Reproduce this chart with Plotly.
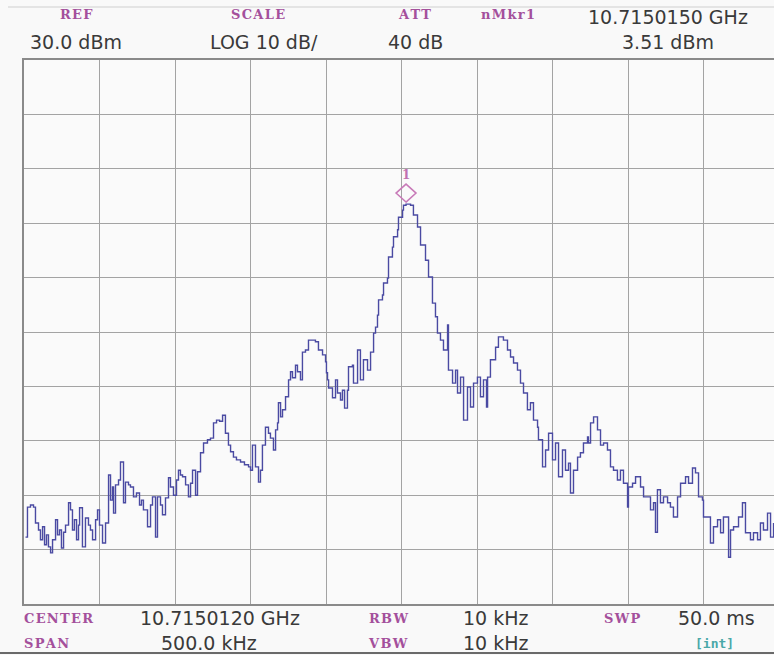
import plotly.graph_objects as go

# ---- data: frequency offset from center (kHz) and level (dBm) ----
freq_khz = [
    -249.0, -247.7, -245.7, -243.7, -242.4, -240.4, -239.1, -237.7, -236.4, -235.1,
    -233.8, -232.4, -231.1, -229.1, -227.8, -226.5, -225.2, -223.8, -222.5, -220.5,
    -219.2, -217.9, -216.6, -215.2, -213.9, -213.2, -211.3, -209.3, -207.3, -206.0,
    -204.6, -202.6, -201.3, -200.0, -198.0, -196.0, -194.0, -192.7, -191.4, -190.7,
    -189.4, -187.4, -186.1, -184.1, -182.8, -180.8, -179.5, -177.5, -175.5, -173.5,
    -172.2, -170.9, -168.2, -166.2, -164.9, -162.9, -161.6, -159.6, -158.3, -156.3,
    -154.3, -153.0, -151.0, -149.0, -147.7, -146.4, -145.0, -143.0, -141.1, -139.7,
    -138.4, -136.4, -135.1, -133.1, -131.1, -128.5, -126.5, -124.5, -122.5, -120.5,
    -118.5, -116.6, -114.6, -113.2, -111.3, -109.3, -106.6, -104.0, -101.3, -100.0,
    -98.7, -96.7, -94.7, -93.4, -92.1, -90.1, -88.1, -86.8, -84.8, -83.4,
    -82.1, -81.5, -80.1, -78.8, -76.8, -74.8, -73.5, -72.2, -70.2, -68.9,
    -66.9, -65.6, -63.6, -61.6, -58.9, -57.0, -55.0, -52.3, -50.3, -49.7,
    -49.0, -48.3, -45.7, -43.7, -42.4, -40.4, -39.1, -37.7, -35.8, -35.1,
    -32.5, -31.8, -29.1, -27.2, -25.2, -22.5, -20.5, -18.5, -17.2, -15.9,
    -15.2, -12.6, -11.9, -9.3, -8.6, -6.0, -5.3, -2.6, -2.0, 0.7,
    1.3, 3.0, 6.0, 7.9, 10.6, 12.6, 15.9, 17.9, 20.5, 22.5,
    23.8, 25.8, 27.8, 30.5, 31.1, 33.8, 35.8, 37.1, 39.1, 41.1,
    43.7, 45.7, 47.7, 50.3, 52.3, 54.3, 56.3, 57.0, 58.9, 62.3,
    64.2, 67.5, 70.2, 72.2, 74.2, 76.8, 78.8, 80.8, 83.4, 85.4,
    87.4, 90.1, 90.7, 93.4, 95.4, 97.4, 100.0, 102.0, 104.0, 106.6,
    108.6, 110.6, 111.9, 113.9, 116.6, 118.5, 120.5, 123.2, 123.8, 125.2,
    127.2, 129.8, 131.8, 133.8, 136.4, 138.4, 140.4, 143.0, 145.0, 147.0,
    149.7, 150.3, 153.0, 155.0, 157.0, 158.3, 160.3, 162.9, 164.9, 166.9,
    168.2, 169.5, 171.5, 173.5, 176.2, 178.1, 180.1, 182.8, 184.8, 188.1,
    190.1, 192.7, 194.7, 196.7, 199.3, 200.0, 202.7, 204.6, 206.6, 209.3,
    211.3, 213.2, 216.6, 217.9, 219.9, 223.2, 225.8, 227.8, 231.1, 233.1,
    235.8, 237.7, 239.7, 242.4, 244.4, 246.4,
]
level_dbm = [
    -57.7, -52.2, -51.8, -52.2, -55.1, -56.4, -58.2, -55.8, -59.1, -57.3,
    -59.5, -60.6, -58.2, -54.5, -57.3, -56.4, -59.7, -56.8, -55.5, -51.4,
    -52.7, -56.4, -54.5, -58.2, -55.5, -52.3, -59.5, -54.2, -55.5, -56.4,
    -58.2, -54.5, -52.7, -55.5, -58.8, -55.1, -46.3, -50.9, -48.5, -53.3,
    -48.1, -47.2, -43.9, -51.4, -47.6, -48.1, -48.5, -50.3, -49.6, -51.8,
    -50.9, -52.7, -55.8, -51.8, -50.3, -57.7, -50.3, -51.8, -53.6, -50.5,
    -46.8, -48.5, -50.0, -47.2, -45.4, -46.3, -46.6, -48.1, -50.3, -47.8,
    -45.4, -50.0, -45.7, -42.2, -40.4, -39.8, -39.5, -36.7, -36.2, -36.4,
    -35.3, -38.6, -40.8, -42.0, -43.0, -43.5, -43.9, -44.4, -44.8, -45.4,
    -40.8, -44.8, -47.6, -45.4, -40.8, -37.5, -38.6, -39.5, -41.7, -38.0,
    -36.7, -33.0, -35.6, -34.3, -31.9, -28.8, -27.3, -28.4, -26.1, -27.3,
    -28.8, -23.7, -23.3, -21.5, -21.5, -21.8, -23.3, -24.2, -25.5, -27.5,
    -28.8, -30.3, -32.1, -28.8, -31.2, -32.5, -30.7, -34.0, -30.7, -26.4,
    -26.1, -29.4, -23.3, -28.8, -25.1, -27.0, -23.7, -20.2, -19.1, -16.9,
    -14.1, -13.2, -11.0, -10.1, -6.2, -4.4, -2.5, -1.2, 1.1, 2.4,
    3.3, 3.51, 3.3, 1.5, -0.7, -4.0, -6.8, -9.9, -14.7, -17.2,
    -20.2, -21.5, -23.3, -18.7, -27.0, -29.4, -27.0, -31.2, -28.3, -36.2,
    -30.1, -33.8, -29.4, -28.3, -31.9, -28.8, -33.8, -28.3, -25.1, -22.8,
    -20.9, -21.5, -23.3, -24.6, -25.7, -27.0, -29.4, -31.2, -34.3, -33.0,
    -36.2, -37.5, -39.8, -44.8, -41.7, -38.6, -43.5, -40.4, -46.6, -41.7,
    -45.4, -44.1, -49.6, -45.4, -43.0, -42.2, -40.4, -39.3, -40.4, -36.7,
    -35.6, -38.0, -40.8, -40.4, -41.7, -44.8, -45.4, -47.2, -45.4, -47.8,
    -52.2, -48.5, -47.8, -46.6, -46.6, -48.5, -50.3, -50.3, -52.7, -51.4,
    -56.8, -49.0, -51.4, -50.3, -51.4, -52.2, -54.0, -50.3, -47.8, -46.6,
    -47.8, -45.0, -45.9, -50.3, -50.9, -54.0, -54.0, -58.8, -55.8, -54.5,
    -56.9, -54.0, -61.4, -56.4, -55.8, -54.0, -51.4, -56.9, -58.2, -56.9,
    -58.2, -55.1, -56.4, -53.3, -57.7, -55.1,
]

# instrument settings
ref_level = 30.0
db_per_div = 10
span_khz = 500.0
marker_khz = 3.0
marker_dbm = 3.51

header_labels = ["REF", "SCALE", "ATT", "nMkr1"]
header_values = ["30.0 dBm", "LOG 10 dB/", "40 dB", "3.51 dBm"]
marker_freq_text = "10.7150150 GHz"
footer_labels = ["CENTER", "SPAN", "RBW", "VBW", "SWP"]
footer_values = ["10.7150120 GHz", "500.0 kHz", "10 kHz", "10 kHz", "50.0 ms"]

W, H = 774, 655
L, T, B = 24, 60, 51
PW = W - L
PH = H - T - B
div_px = 75.5
x_lo = -span_khz / 2
x_hi = x_lo + PW / div_px * (span_khz / 10)

BG = "#f9f9f9"


def px(x):
    return (x - L) / PW


def py(y):
    return (T + PH - y) / PH


LABEL_C = "#a4509c"
VAL_C = "#3a3a3a"
lab_font = dict(family="DejaVu Serif", size=13, color=LABEL_C, weight="bold")
val_font = dict(family="DejaVu Sans", size=19, color=VAL_C)

fig = go.Figure()
fig.add_trace(go.Scatter(
    x=freq_khz, y=level_dbm, mode="lines",
    line=dict(color="#4a4aa2", width=1.4, shape="hv"),
    hoverinfo="skip", showlegend=False,
))

ann = []


def txt(text, x, y, font):
    ann.append(dict(text=text, x=px(x), y=py(y), xref="paper", yref="paper",
                    xanchor="center", yanchor="middle", showarrow=False, font=font))


def spaced(s):
    return "\u200a".join(s)


# header
txt(spaced(header_labels[0]), 76, 14, lab_font)
txt(spaced(header_labels[1]), 258, 14, lab_font)
txt(spaced(header_labels[2]), 414, 14, lab_font)
txt(spaced(header_labels[3]), 508, 14, lab_font)
txt(marker_freq_text, 668, 17, val_font)
txt(header_values[0], 76, 42, val_font)
txt(header_values[1], 264, 42, val_font)
txt(header_values[2], 415, 42, val_font)
txt(header_values[3], 668, 42, val_font)
# footer
txt(spaced(footer_labels[0]), 58, 618, lab_font)
txt(footer_values[0], 220, 618, val_font)
txt(spaced(footer_labels[2]), 388, 618, lab_font)
txt(footer_values[2], 496, 618, val_font)
txt(spaced(footer_labels[4]), 622, 618, lab_font)
txt(footer_values[4], 716, 618, val_font)
txt(spaced(footer_labels[1]), 46, 643, lab_font)
txt(footer_values[1], 209, 643, val_font)
txt(spaced(footer_labels[3]), 388, 643, lab_font)
txt(footer_values[3], 496, 643, val_font)
txt("[int]", 714, 643, dict(family="DejaVu Sans Mono", size=13, color="#4aa8a8", weight="bold"))

# marker number
ann.append(dict(text="1", x=marker_khz, y=marker_dbm, xref="x", yref="y",
                yshift=29, showarrow=False,
                font=dict(family="DejaVu Serif", size=12, color="#c070b0", weight="bold")))

shapes = [
    # marker diamond above the peak
    dict(type="path", xref="x", yref="y", xsizemode="pixel", ysizemode="pixel",
         xanchor=marker_khz, yanchor=marker_dbm,
         path="M 0 2 L 10 11 L 0 20 L -10 11 Z",
         line=dict(color="#c87ab8", width=1.5)),
    # thin rule at top of header
    dict(type="line", xref="paper", yref="paper", x0=px(8), x1=px(774), y0=py(7), y1=py(7),
         line=dict(color="#cfcfcf", width=1)),
    # bottom rule
    dict(type="line", xref="paper", yref="paper", x0=px(0), x1=px(774), y0=py(653), y1=py(653),
         line=dict(color="#6a6a6a", width=2)),
]

fig.update_layout(
    width=W, height=H,
    margin=dict(l=L, r=0, t=T, b=B, pad=0),
    paper_bgcolor=BG, plot_bgcolor="#fafafa",
    annotations=ann, shapes=shapes,
    xaxis=dict(range=[x_lo, x_hi], tick0=x_lo, dtick=span_khz / 10,
               showticklabels=False, ticks="", showgrid=True, gridcolor="#a3a3a3", gridwidth=1.3,
               zeroline=False, showline=True, linecolor="#8a8a8a", linewidth=2, mirror=True,
               fixedrange=True),
    yaxis=dict(range=[ref_level - 10 * db_per_div, ref_level], tick0=ref_level, dtick=db_per_div,
               showticklabels=False, ticks="", showgrid=True, gridcolor="#a3a3a3", gridwidth=1.3,
               zeroline=False, showline=True, linecolor="#8a8a8a", linewidth=1.5,
               fixedrange=True),
)

fig.write_html(
    "out.html",
    config={"displayModeBar": False},
    post_script="document.body.style.margin='0px';document.body.style.overflow='hidden';"
                "document.body.style.background='" + BG + "';",
)
